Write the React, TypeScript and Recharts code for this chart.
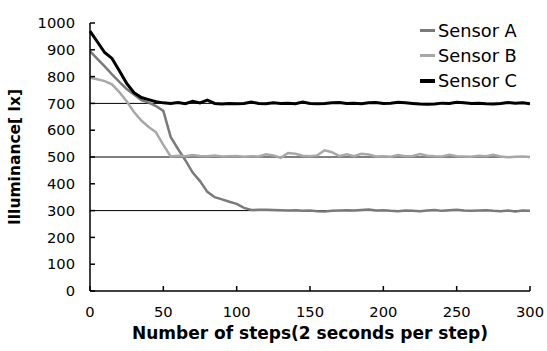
import { LineChart, Line, XAxis, YAxis, ReferenceLine, Label } from 'recharts';

const steps = [
  0, 5, 10, 15, 20, 25, 30, 35, 40, 45, 50, 55, 60, 65, 70, 75, 80, 85, 90, 95,
  100, 105, 110, 115, 120, 125, 130, 135, 140, 145, 150, 155, 160, 165, 170, 175, 180, 185, 190, 195,
  200, 205, 210, 215, 220, 225, 230, 235, 240, 245, 250, 255, 260, 265, 270, 275, 280, 285, 290, 295, 300,
];

const sensorA = [
  895, 866, 838, 808, 780, 754, 733, 712, 703, 690, 672, 575, 530, 488, 442, 410, 370, 350, 342, 333,
  325, 310, 302, 303, 303, 302, 301, 300, 301, 299, 300, 298, 297, 299, 300, 301, 300, 302, 304, 300,
  301, 299, 298, 300, 299, 298, 300, 302, 299, 301, 303, 300, 299, 300, 301, 299, 298, 300, 297, 300, 299,
];

const sensorB = [
  796, 790, 783, 771, 742, 708, 668, 636, 612, 592, 545, 502, 505, 503, 507, 504, 503, 506, 502, 503,
  504, 501, 503, 502, 510, 506, 497, 515, 512, 505, 503, 506, 525, 518, 503, 510, 503, 512, 509, 502,
  503, 501, 507, 503, 504, 511, 505, 503, 502, 508, 503, 502, 501, 505, 503, 508, 502, 499, 501, 502, 500,
];

const sensorC = [
  970, 930, 890, 868, 822, 775, 740, 722, 714, 706, 702, 700, 703, 699, 708, 702, 712, 700, 698, 700,
  699, 700, 705, 700, 699, 702, 700, 701, 699, 705, 700, 699, 700, 702, 703, 700, 701, 699, 702, 703,
  700, 701, 704, 702, 700, 698, 697, 698, 701, 700, 704, 702, 700, 701, 699, 698, 700, 703, 701, 702, 699,
];

const xTicks = [0, 50, 100, 150, 200, 250, 300];
const yTicks = [0, 100, 200, 300, 400, 500, 600, 700, 800, 900, 1000];
const targets = [700, 500, 300];

const data = steps.map((s, i) => ({
  step: s,
  a: sensorA[i],
  b: sensorB[i],
  c: sensorC[i],
}));

const font = '"DejaVu Sans", sans-serif';

const series = [
  { key: 'a', name: 'Sensor A', color: '#7a7a7a', width: 2.5 },
  { key: 'b', name: 'Sensor B', color: '#a8a8a8', width: 2.5 },
  { key: 'c', name: 'Sensor C', color: '#000000', width: 3 },
];

// legend drawn outside recharts so it doesn't eat plot height
const LegendBox = () => (
  <div style={{ position: 'absolute', left: 420, top: 18, fontFamily: font, fontSize: 17.8, color: '#000' }}>
    {series.map((s) => (
      <div key={s.key} style={{ display: 'flex', alignItems: 'center', height: 25 }}>
        <div style={{ width: 15, height: s.key === 'c' ? 4 : 3, background: s.color, marginRight: 3 }} />
        <span>{s.name}</span>
      </div>
    ))}
  </div>
);

export default function App() {
  return (
    <div style={{ position: 'absolute', left: 0, top: 0, width: 547, height: 351, background: '#fff' }}>
      <LineChart width={547} height={351} data={data} margin={{ top: 23, right: 17, bottom: 0, left: 0 }}>
        <XAxis
          dataKey="step"
          type="number"
          domain={[0, 300]}
          ticks={xTicks}
          height={60}
          tickSize={-5}
          tickMargin={21}
          stroke="#000"
          strokeWidth={1.5}
          tick={{ fill: '#000', fontSize: 14.7, fontFamily: font }}
        >
          <Label
            value="Number of steps(2 seconds per step)"
            position="insideBottom"
            offset={12}
            style={{ fontFamily: font, fontSize: 17, fontWeight: 'bold', fill: '#000' }}
          />
        </XAxis>
        <YAxis
          type="number"
          domain={[0, 1000]}
          ticks={yTicks}
          width={90}
          tickSize={-5}
          tickMargin={20}
          stroke="#000"
          strokeWidth={1.5}
          interval={0}
          tick={{ fill: '#000', fontSize: 14.7, fontFamily: font }}
        >
          <Label
            value="Illuminance[ lx]"
            angle={-90}
            position="insideLeft"
            offset={14}
            style={{ fontFamily: font, fontSize: 15.5, fontWeight: 'bold', fill: '#000', textAnchor: 'middle' }}
          />
        </YAxis>
        {targets.map((t) => (
          <ReferenceLine key={t} y={t} stroke="#000" strokeWidth={1} />
        ))}
        {series.map((s) => (
          <Line
            key={s.key}
            dataKey={s.key}
            name={s.name}
            stroke={s.color}
            strokeWidth={s.width}
            dot={false}
            type="linear"
            isAnimationActive={false}
          />
        ))}
      </LineChart>
      <LegendBox />
    </div>
  );
}
